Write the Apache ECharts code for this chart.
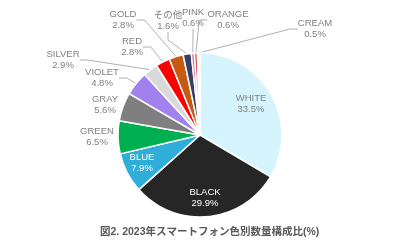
<!DOCTYPE html>
<html><head><meta charset="utf-8">
<script src="https://cdn.jsdelivr.net/npm/echarts@6/dist/echarts.min.js"></script>
<style>html,body{margin:0;padding:0;background:#fff}#c{width:400px;height:242px}</style>
</head><body><div id="c"></div>
<script>
const categories = ['WHITE','BLACK','BLUE','GREEN','GRAY','VIOLET','SILVER','RED','GOLD','その他','PINK','ORANGE','CREAM'];
const shares = [33.5,29.9,7.9,6.5,5.6,4.8,2.9,2.8,2.8,1.6,0.6,0.6,0.5];
const sliceColors = ['#d5f4fd','#262626','#2eaed8','#00b050','#7f7f7f','#a181ee','#d9d9d9','#ff0000','#c55a11','#383d63','#e86a8c','#d8506a','#fff2cc'];
// label anchor (text centre) positions in pixels
const labelPos = {
  'WHITE':[251,104],'BLACK':[205,198],'BLUE':[142,163],'GREEN':[97,137],'GRAY':[105,105],
  'VIOLET':[102,78],'SILVER':[63,60],'RED':[132,47],'GOLD':[123,20],'その他':[168,21],
  'PINK':[193,18],'ORANGE':[228,20],'CREAM':[315,29]
};
const insideDark = ['BLACK','BLUE'];
const noLine = ['WHITE','BLACK','BLUE','GREEN','GRAY'];

const data = categories.map((n,i)=>({
  name:n, value:shares[i],
  itemStyle:{color:sliceColors[i]},
  label:{color: insideDark.includes(n)?'#ffffff':'#808080'},
  labelLine:{show: !noLine.includes(n)}
}));

const chart = echarts.init(document.getElementById('c'));
chart.setOption({
  animation:false,
  title:{text:'図2. 2023年スマートフォン色別数量構成比(%)',left:95,top:222,
    textStyle:{fontSize:10.5,fontWeight:'bold',color:'#595959',fontFamily:'"Liberation Sans", "Noto Sans CJK JP", sans-serif'}},
  series:[{
    type:'pie',
    center:[200,135],
    radius:[0,82],
    startAngle:90,
    clockwise:true,
    avoidLabelOverlap:false,
    itemStyle:{borderColor:'#ffffff',borderWidth:1.5},
    label:{show:true,position:'outside',fontSize:9.5,lineHeight:11,
      fontFamily:'"Liberation Sans", Arial, "Noto Sans CJK JP", sans-serif',
      formatter:p=>p.name+'\n'+p.value.toFixed(1)+'%'},
    labelLine:{show:true,length:8,length2:8,lineStyle:{color:'#b0b0b0',width:1}},
    labelLayout:function(p){
      const n = categories[p.dataIndex];
      const pos = labelPos[n];
      return {x:pos[0],y:pos[1],align:'center',verticalAlign:'middle',moveOverlap:false};
    },
    data:data
  }]
});
</script></body></html>
